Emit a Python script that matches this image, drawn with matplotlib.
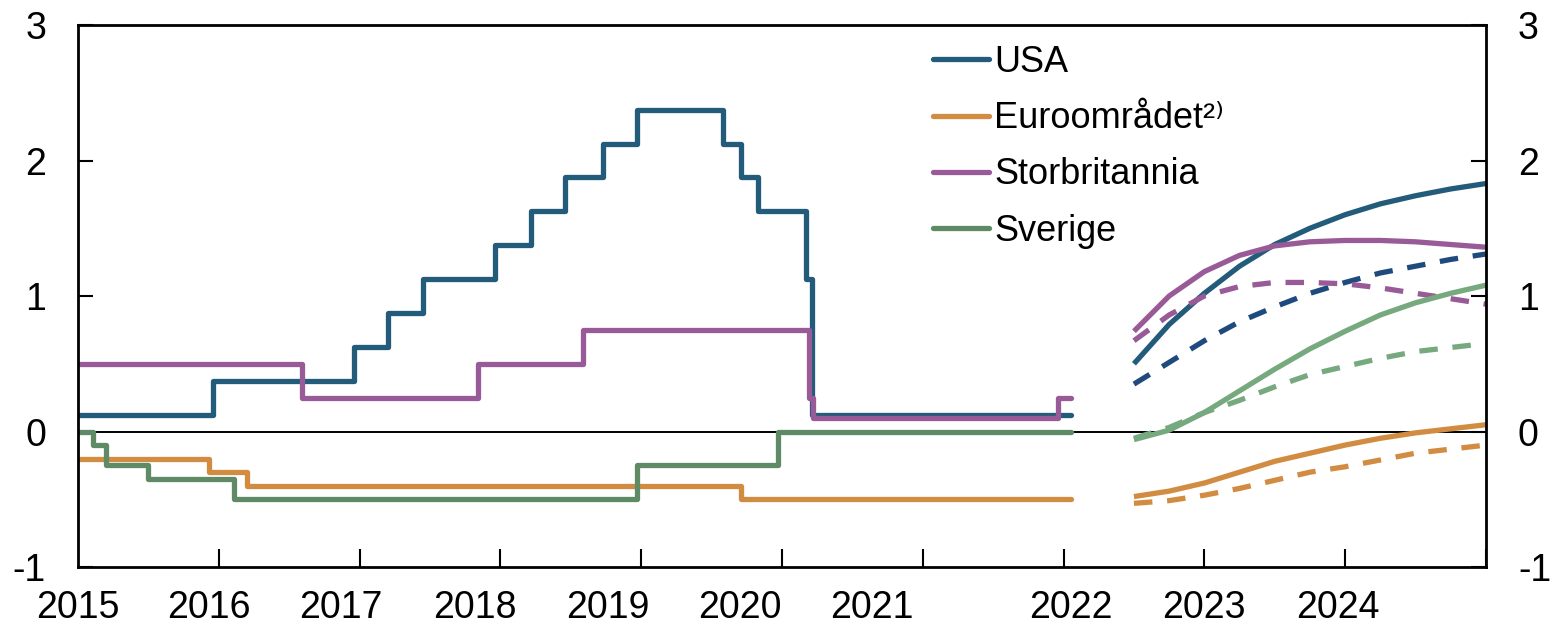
import matplotlib
matplotlib.use('Agg')
import matplotlib.pyplot as plt

plt.rcParams['font.family'] = ['Liberation Sans', 'DejaVu Sans']
plt.rcParams['axes.unicode_minus'] = False

# historical policy rates (step series, decimal year of change)
usa_t = [2015.0, 2015.96, 2016.96, 2017.2, 2017.45, 2017.96, 2018.22, 2018.46, 2018.73,
         2018.97, 2019.58, 2019.71, 2019.83, 2020.17, 2020.21, 2022.05]
usa_v = [0.125, 0.375, 0.625, 0.875, 1.125, 1.375, 1.625, 1.875, 2.125,
         2.375, 2.125, 1.875, 1.625, 1.125, 0.125, 0.125]

uk_t = [2015.0, 2016.59, 2017.84, 2018.59, 2020.19, 2020.22, 2021.96, 2022.05]
uk_v = [0.5, 0.25, 0.5, 0.75, 0.25, 0.1, 0.25, 0.25]

euro_t = [2015.0, 2015.93, 2016.2, 2019.71, 2022.05]
euro_v = [-0.2, -0.3, -0.4, -0.5, -0.5]

swe_t = [2015.0, 2015.11, 2015.2, 2015.5, 2016.11, 2018.97, 2019.97, 2022.05]
swe_v = [0.0, -0.1, -0.25, -0.35, -0.5, -0.25, 0.0, 0.0]

# market forward rates, quarterly
fwd_t = [2022.5, 2022.75, 2023.0, 2023.25, 2023.5, 2023.75, 2024.0, 2024.25, 2024.5, 2024.75, 2025.0]
usa_new = [0.50, 0.79, 1.02, 1.22, 1.38, 1.50, 1.60, 1.68, 1.74, 1.79, 1.83]
usa_old = [0.35, 0.51, 0.67, 0.81, 0.92, 1.02, 1.10, 1.17, 1.22, 1.27, 1.31]
uk_new = [0.74, 1.00, 1.18, 1.30, 1.37, 1.40, 1.41, 1.41, 1.40, 1.38, 1.36]
uk_old = [0.67, 0.86, 1.00, 1.07, 1.10, 1.10, 1.09, 1.06, 1.02, 0.98, 0.94]
swe_new = [-0.06, 0.01, 0.14, 0.30, 0.46, 0.61, 0.74, 0.86, 0.95, 1.02, 1.08]
swe_old = [-0.05, 0.03, 0.14, 0.23, 0.33, 0.42, 0.48, 0.54, 0.59, 0.62, 0.65]
euro_new = [-0.48, -0.44, -0.38, -0.30, -0.22, -0.16, -0.10, -0.05, -0.01, 0.02, 0.05]
euro_old = [-0.53, -0.51, -0.47, -0.42, -0.36, -0.30, -0.26, -0.21, -0.16, -0.13, -0.10]

years = [2015, 2016, 2017, 2018, 2019, 2020, 2021, 2022, 2023, 2024]
labels = ['USA', 'Euroområdet²⁾', 'Storbritannia', 'Sverige']

c_usa = '#235b7b'
c_usa_d = '#1f4a7e'
c_euro = '#d28c42'
c_uk = '#985b98'
c_swe = '#5e8a66'
c_swe_f = '#77a97e'

fig = plt.figure(figsize=(15.54, 6.28), dpi=100)
ax = fig.add_axes([0.0502, 0.0971, 0.9060, 0.8631])

lw = 3.8
kw = dict(lw=lw, drawstyle='steps-post', solid_joinstyle='round', solid_capstyle='round')
ax.plot(usa_t, usa_v, color=c_usa, label=labels[0], **kw)
ax.plot(euro_t, euro_v, color=c_euro, label=labels[1], **kw)
ax.plot(uk_t, uk_v, color=c_uk, label=labels[2], **kw)
ax.plot(swe_t, swe_v, color=c_swe, label=labels[3], **kw)

dash = (3.5, 2.8)
ax.plot(fwd_t, usa_new, color=c_usa, lw=lw, solid_capstyle='butt')
ax.plot(fwd_t, usa_old, color=c_usa_d, lw=lw, dashes=dash)
ax.plot(fwd_t, uk_new, color=c_uk, lw=lw, solid_capstyle='butt')
ax.plot(fwd_t, uk_old, color=c_uk, lw=lw, dashes=dash)
ax.plot(fwd_t, swe_new, color=c_swe_f, lw=lw, solid_capstyle='butt')
ax.plot(fwd_t, swe_old, color=c_swe_f, lw=lw, dashes=dash)
ax.plot(fwd_t, euro_new, color=c_euro, lw=lw, solid_capstyle='butt')
ax.plot(fwd_t, euro_old, color=c_euro, lw=lw, dashes=dash)

ax.axhline(0, color='black', lw=1.4, zorder=1)

ax.set_xlim(2015, 2025)
ax.set_ylim(-1, 3)
ax.set_yticks([-1, 0, 1, 2, 3])

# tick marks at year starts, year labels placed as in the original
ax.set_xticks(years[1:] + [2025])
ax.set_xticklabels([])
lab_pos = [2015.0, 2015.93, 2016.87, 2017.82, 2018.76, 2019.70, 2020.64, 2022.05, 2023.0, 2023.95]
for p, yr in zip(lab_pos, years):
    ax.text(p, -0.042, str(yr), transform=ax.get_xaxis_transform(), ha='center', va='top', fontsize=27)

ax.tick_params(axis='x', direction='in', length=13, width=1.5)
ax.tick_params(axis='y', direction='in', length=11, width=1.5, labelsize=27,
               left=True, right=True, labelleft=True, labelright=True, pad=23)
for s in ax.spines.values():
    s.set_linewidth(2)

leg = ax.legend(loc='upper left', bbox_to_anchor=(0.589, 1.01), frameon=False, fontsize=26,
                handlelength=1.55, handletextpad=0.15, labelspacing=0.59, borderaxespad=0.3)
for h in leg.get_lines():
    h.set_solid_capstyle('round')

fig.savefig('out.png', dpi=100)
